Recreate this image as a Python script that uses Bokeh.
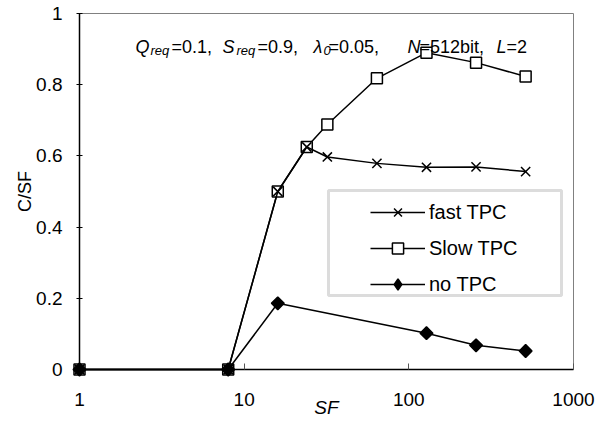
from bokeh.plotting import figure
from bokeh.models import (Range1d, FixedTicker, CustomJSTickFormatter, Legend,
                          LegendItem, Label, BoxAnnotation)
from bokeh.embed import file_html
from bokeh.resources import INLINE
import math

# ---------------- data ----------------
sf_fast = [1, 8, 16, 24, 32, 64, 128, 256, 512]
cs_fast = [0, 0, 0.500, 0.625, 0.597, 0.579, 0.568, 0.569, 0.556]
sf_slow = [1, 8, 16, 24, 32, 64, 128, 256, 512]
cs_slow = [0, 0, 0.500, 0.625, 0.688, 0.818, 0.890, 0.862, 0.823]
sf_none = [1, 8, 16, 128, 256, 512]
cs_none = [0, 0, 0.186, 0.102, 0.068, 0.052]
x_ticks = [1, 10, 100, 1000]
y_ticks = [0, 0.2, 0.4, 0.6, 0.8, 1.0]
series_labels = ["fast TPC", "Slow TPC", "no TPC"]

FONT = "Liberation Sans"

p = figure(width=611, height=421, x_axis_type="log",
           x_range=Range1d(1, 1000), y_range=Range1d(0, 1),
           output_backend="svg", toolbar_location=None,
           min_border_left=79, min_border_right=38,
           min_border_top=13, min_border_bottom=52)
p.grid.visible = False
p.outline_line_color = "#808080"
p.outline_line_width = 1
p.background_fill_color = "white"
p.border_fill_color = "white"

# x axis
xa = p.xaxis[0]
xa.ticker = FixedTicker(ticks=x_ticks, minor_ticks=[])
xa.formatter = CustomJSTickFormatter(code="return String(tick)")
xa.major_tick_in = 6
xa.major_tick_out = 0
xa.minor_tick_in = 0
xa.minor_tick_out = 0
xa.axis_line_color = "black"
xa.axis_line_width = 1.5
xa.major_tick_line_color = "#555555"
xa.major_label_text_font = FONT
xa.major_label_text_font_size = "19px"
xa.major_label_text_color = "black"
xa.major_label_standoff = 23
xa.axis_label = "SF"
xa.axis_label_text_font = FONT
xa.axis_label_text_font_style = "italic"
xa.axis_label_text_font_size = "19px"
xa.axis_label_text_color = "black"
xa.axis_label_standoff = -12

# y axis
ya = p.yaxis[0]
ya.ticker = FixedTicker(ticks=y_ticks, minor_ticks=[])
ya.formatter = CustomJSTickFormatter(code=r"return tick.toFixed(1).replace(/\.0$/, '')")
ya.major_tick_in = 3
ya.major_tick_out = 3
ya.minor_tick_in = 0
ya.minor_tick_out = 0
ya.axis_line_color = "black"
ya.axis_line_width = 1.5
ya.major_label_text_font = FONT
ya.major_label_text_font_size = "19px"
ya.major_label_text_color = "black"
ya.major_label_standoff = 14
ya.axis_label = "C/SF"
ya.axis_label_text_font = FONT
ya.axis_label_text_font_style = "normal"
ya.axis_label_text_font_size = "18px"
ya.axis_label_text_color = "black"
ya.axis_label_standoff = -2

# ---------------- series ----------------
lw = 1.5
r_slow_l = p.line(sf_slow, cs_slow, line_color="black", line_width=lw, level="guide")
r_slow_m = p.scatter(sf_slow, cs_slow, marker="square", size=11, fill_color="white",
                     line_color="black", line_width=lw, level="guide")
r_fast_l = p.line(sf_fast, cs_fast, line_color="black", line_width=lw, level="guide")
r_fast_m = p.scatter(sf_fast, cs_fast, marker="x", size=13,
                     line_color="black", line_width=lw, level="guide")
r_none_l = p.line(sf_none, cs_none, line_color="black", line_width=lw, level="guide")
# legend-shaped diamond (sits fully inside the rotated square drawn on top of it)
r_none_k = p.scatter(sf_none, cs_none, marker="diamond", size=11,
                     fill_color="black", line_color="black", line_width=lw, level="guide")
r_none_m = p.scatter(sf_none, cs_none, marker="square", angle=math.pi / 4, size=9,
                     fill_color="black", line_color="black", line_width=lw, level="guide")

# legend frame
box = BoxAnnotation(left=249, right=482, bottom=74, top=179,
                    left_units="screen", right_units="screen",
                    bottom_units="screen", top_units="screen",
                    fill_color="white", fill_alpha=1.0,
                    line_color="#8c8c8c", line_width=3)
p.add_layout(box)

legend = Legend(items=[
    LegendItem(label=series_labels[0], renderers=[r_fast_l, r_fast_m]),
    LegendItem(label=series_labels[1], renderers=[r_slow_l, r_slow_m]),
    LegendItem(label=series_labels[2], renderers=[r_none_l, r_none_k]),
], location=(287, 67), padding=4, margin=0, spacing=8,
    glyph_width=55, glyph_height=28, label_height=28, label_standoff=4,
    label_text_font=FONT, label_text_font_size="20px", label_text_color="black",
    border_line_alpha=0, background_fill_alpha=0)
p.add_layout(legend)

# ---------------- annotation ----------------
base_y = 323
sub_y = 319
pieces = [
    ("Q", 56, base_y, "18px", "italic"),
    ("req", 71, sub_y, "13px", "italic"),
    ("=0.1,", 92, base_y, "18px", "normal"),
    ("S", 143, base_y, "18px", "italic"),
    ("req", 157, sub_y, "13px", "italic"),
    ("=0.9,", 178, base_y, "18px", "normal"),
    ("\u03bb", 234, base_y, "18px", "italic"),
    ("0", 244, sub_y, "13px", "italic"),
    ("=0.05,", 249, base_y, "18px", "normal"),
    ("N", 328, base_y, "18px", "italic"),
    ("=512bit,", 340, base_y, "18px", "normal"),
    ("L", 417, base_y, "18px", "italic"),
    ("=2", 427, base_y, "18px", "normal"),
]
for txt, xx, yy, fs, st in pieces:
    p.add_layout(Label(x=xx, y=yy, x_units="screen", y_units="screen", text=txt,
                       text_font=FONT, text_font_size=fs, text_font_style=st,
                       text_color="black", text_baseline="alphabetic", text_align="left"))

open("out.html", "w").write(file_html(p, INLINE))
